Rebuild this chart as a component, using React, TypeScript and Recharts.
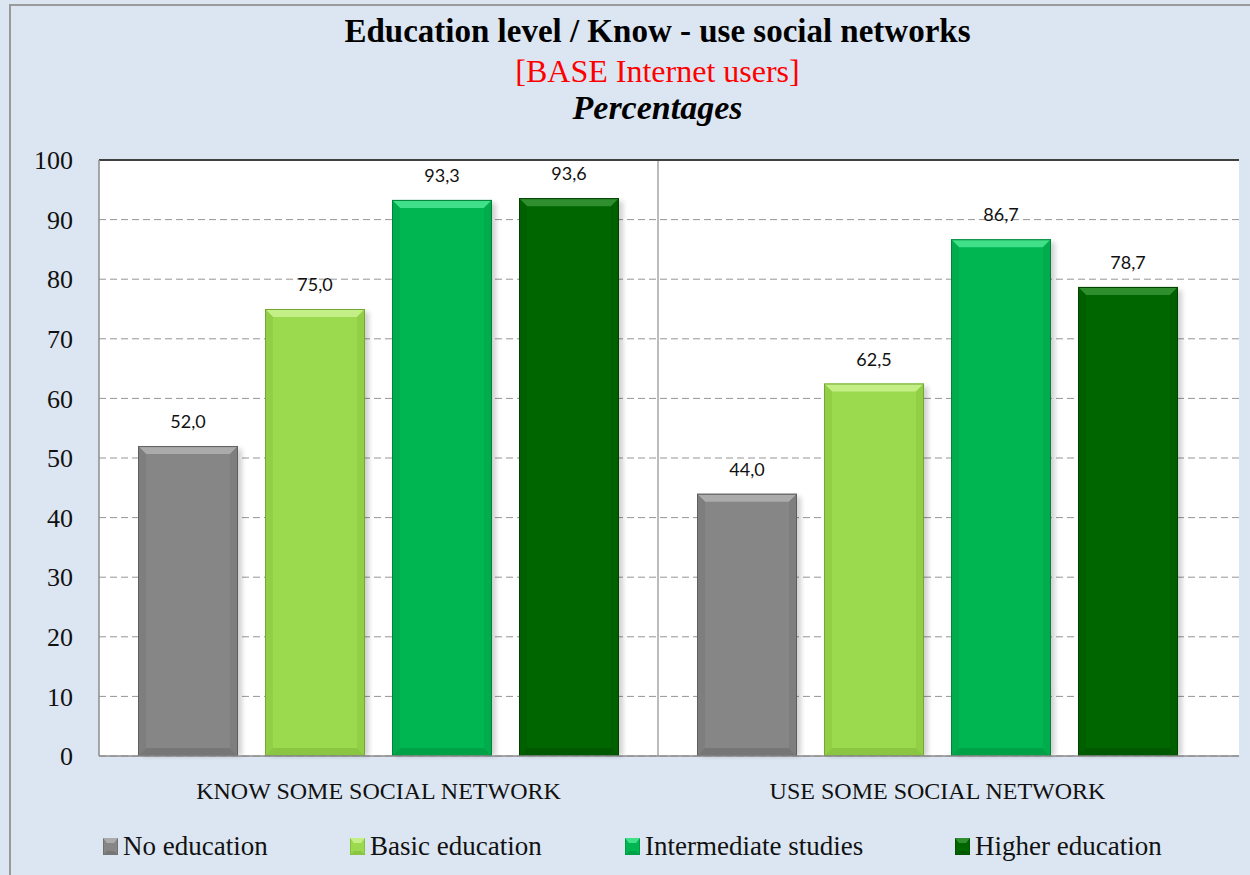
import React from 'react';
import { BarChart, Bar, XAxis, YAxis, CartesianGrid, ReferenceLine, LabelList } from 'recharts';

const categories = ['KNOW SOME SOCIAL NETWORK', 'USE SOME SOCIAL NETWORK'];
const noEducation = [52.0, 44.0];
const basicEducation = [75.0, 62.5];
const intermediateStudies = [93.3, 86.7];
const higherEducation = [93.6, 78.7];
const yTicks = [0, 10, 20, 30, 40, 50, 60, 70, 80, 90, 100];

const seriesNames = ['No education', 'Basic education', 'Intermediate studies', 'Higher education'];

const data = categories.map((name, i) => ({
  name,
  s0: noEducation[i],
  s1: basicEducation[i],
  s2: intermediateStudies[i],
  s3: higherEducation[i],
}));

// main / top bevel / side bevel / bottom bevel / outline
const palette = [
  { fill: '#868686', top: '#ababab', side: '#7e7e7e', bottom: '#767676', edge: '#5e5e5e' },
  { fill: '#9bd94f', top: '#c4ee86', side: '#92cf47', bottom: '#8ac641', edge: '#72a832' },
  { fill: '#00b651', top: '#3fe088', side: '#00ac4c', bottom: '#00a247', edge: '#008238' },
  { fill: '#006600', top: '#2f8f2f', side: '#006000', bottom: '#005800', edge: '#004000' },
];

const SERIF = '"Liberation Serif", "DejaVu Serif", serif';
const RIGHT_PAD = 22;

const BevelBar = (props: any) => {
  const { x, y, width: w, height: h, colors } = props;
  if (!h || h <= 0) return null;
  const b = Math.min(8, h / 2);
  return (
    <g>
      <rect x={x + 4} y={y + 3} width={w} height={h - 3} fill="#000" opacity={0.18} filter="url(#barShadow)" />
      <rect x={x} y={y} width={w} height={h} fill={colors.fill} />
      <polygon points={`${x},${y} ${x + w},${y} ${x + w - b},${y + b} ${x + b},${y + b}`} fill={colors.top} />
      <polygon points={`${x},${y} ${x + b},${y + b} ${x + b},${y + h - b} ${x},${y + h}`} fill={colors.side} />
      <polygon points={`${x + w},${y} ${x + w - b},${y + b} ${x + w - b},${y + h - b} ${x + w},${y + h}`} fill={colors.side} />
      <polygon points={`${x},${y + h} ${x + b},${y + h - b} ${x + w - b},${y + h - b} ${x + w},${y + h}`} fill={colors.bottom} />
      <rect x={x + 0.5} y={y + 0.5} width={w - 1} height={h - 1} fill="none" stroke={colors.edge} strokeWidth={1} />
    </g>
  );
};

const LegendSwatch = ({ colors }: any) => (
  <svg width={15} height={17} style={{ marginRight: 5 }}>
    <rect x={0} y={0} width={15} height={17} fill={colors.fill} stroke={colors.edge} />
    <polygon points="0,0 15,0 11,5 4,5" fill={colors.top} />
    <polygon points="0,17 4,13 11,13 15,17" fill={colors.bottom} />
  </svg>
);

const legendOffsets = [103, 350, 625, 955];

const fmt = (v: any) => Number(v).toFixed(1).replace('.', ',');

export default function App() {
  const keys = ['s0', 's1', 's2', 's3'];
  return (
    <div style={{ position: 'absolute', left: 0, top: 0, width: 1250, height: 875, background: '#dce6f2', overflow: 'hidden' }}>
      <div style={{ position: 'absolute', left: 9, top: 4, width: 1300, height: 900, border: '2px solid #9a9a9a', boxSizing: 'border-box' }} />
      <div style={{ position: 'absolute', left: 0, top: 10, width: 1315, textAlign: 'center', fontFamily: SERIF, color: '#000' }}>
        <div style={{ fontSize: 33, fontWeight: 'bold', lineHeight: '42px' }}>Education level / Know - use social networks</div>
        <div style={{ fontSize: 32, color: '#ff0000', lineHeight: '38px' }}>[BASE Internet users]</div>
        <div style={{ fontSize: 34, fontWeight: 'bold', fontStyle: 'italic', lineHeight: '36px' }}>Percentages</div>
      </div>
      <div style={{ position: 'absolute', left: 0, top: 0 }}>
        <BarChart
          width={1250}
          height={875}
          data={data}
          margin={{ top: 160, right: 11, left: 39, bottom: 69 }}
          barSize={100}
          barGap={27}
        >
          <defs>
            <filter id="barShadow" x="-10%" y="-10%" width="130%" height="130%">
              <feGaussianBlur stdDeviation="2.5" />
            </filter>
          </defs>
          <CartesianGrid fill="#ffffff" vertical={false} stroke="#959595" strokeDasharray="7 4" />
          <CartesianGrid
            horizontal={false}
            stroke="#a6a6a6"
            strokeWidth={1.5}
            verticalCoordinatesGenerator={({ offset }: any) => [offset.left + (offset.width - RIGHT_PAD) / 2]}
          />
          <XAxis
            dataKey="name"
            padding={{ left: 0, right: RIGHT_PAD }}
            axisLine={{ stroke: '#8c8c8c', strokeWidth: 1.5 }}
            tickLine={false}
            tickMargin={20}
            tick={{ fontFamily: SERIF, fontSize: 24, fill: '#111' }}
            height={50}
          />
          <YAxis
            width={60}
            domain={[0, 100]}
            ticks={yTicks}
            interval={0}
            axisLine={{ stroke: '#8c8c8c', strokeWidth: 1.5 }}
            tickLine={false}
            tickMargin={20}
            tick={{ fontFamily: SERIF, fontSize: 26, fill: '#111' }}
          />
          <ReferenceLine y={100} stroke="#404040" strokeWidth={2} />
          {keys.map((k, i) => (
            <Bar
              key={k}
              dataKey={k}
              name={seriesNames[i]}
              fill={palette[i].fill}
              isAnimationActive={false}
              shape={(p: any) => <BevelBar {...p} colors={palette[i]} />}
            >
              <LabelList
                dataKey={k}
                position="top"
                offset={18}
                formatter={fmt}
                style={{ fontFamily: 'Lato, "Open Sans", sans-serif', fontSize: 18, fill: '#111' }}
              />
            </Bar>
          ))}
        </BarChart>
      </div>
      <div style={{ position: 'absolute', left: 0, top: 831, width: 1250, height: 32, fontFamily: SERIF, fontSize: 27, color: '#111' }}>
        {seriesNames.map((n, i) => (
          <div key={n} style={{ position: 'absolute', left: legendOffsets[i], top: 0, display: 'flex', alignItems: 'center' }}>
            <LegendSwatch colors={palette[i]} />
            <span>{n}</span>
          </div>
        ))}
      </div>
    </div>
  );
}
